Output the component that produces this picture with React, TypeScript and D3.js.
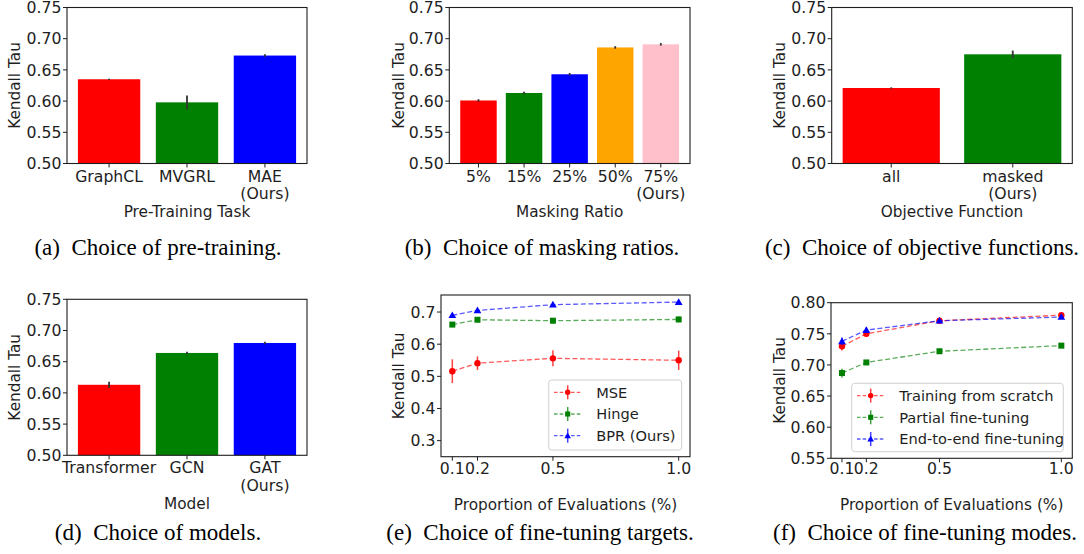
import React from "react";
import * as d3 from "d3";

// ---------- data ----------
const pretrainTasks = ["GraphCL", "MVGRL", "MAE\n(Ours)"];
const pretrainTau = [0.635, 0.598, 0.673];
const pretrainErr = [0.001, 0.011, 0.002];

const maskRatios = ["5%", "15%", "25%", "50%", "75%\n(Ours)"];
const maskTau = [0.601, 0.613, 0.643, 0.686, 0.691];
const maskErr = [0.002, 0.002, 0.002, 0.002, 0.002];

const objectives = ["all", "masked\n(Ours)"];
const objectiveTau = [0.621, 0.675];
const objectiveErr = [0.001, 0.006];

const models = ["Transformer", "GCN", "GAT\n(Ours)"];
const modelTau = [0.613, 0.664, 0.68];
const modelErr = [0.005, 0.002, 0.002];

const evalProps = [0.1, 0.2, 0.5, 1.0];
const evalTickLabels = ["0.1", "0.2", "0.5", "1.0"];

const targetNames = ["MSE", "Hinge", "BPR (Ours)"];
const mseTau = [0.516, 0.541, 0.556, 0.55];
const mseErr = [0.037, 0.021, 0.025, 0.03];
const hingeTau = [0.661, 0.676, 0.673, 0.677];
const hingeErr = [0.006, 0.005, 0.008, 0.009];
const bprTau = [0.69, 0.705, 0.723, 0.731];
const bprErr = [0.004, 0.003, 0.003, 0.003];

const modeNames = ["Training from scratch", "Partial fine-tuning", "End-to-end fine-tuning"];
const scratchTau = [0.73, 0.75, 0.771, 0.78];
const scratchErr = [0.007, 0.005, 0.003, 0.003];
const partialTau = [0.687, 0.704, 0.722, 0.731];
const partialErr = [0.007, 0.004, 0.003, 0.003];
const e2eTau = [0.738, 0.756, 0.771, 0.777];
const e2eErr = [0.006, 0.004, 0.003, 0.003];

const barTicks = [0.5, 0.55, 0.6, 0.65, 0.7, 0.75];
const targetTicks = [0.3, 0.4, 0.5, 0.6, 0.7];
const modeTicks = [0.55, 0.6, 0.65, 0.7, 0.75, 0.8];

// ---------- styles ----------
const SANS = "DejaVu Sans, Verdana, sans-serif";
const SERIF = "Liberation Serif, Times New Roman, serif";
const INK = "#1e1e1e";
const TICK_FS = 15.7;
const LABEL_FS = 15.3;

type Box = { x0: number; x1: number; y0: number; y1: number };

function YAxis({ box, y, ticks, digits, labelX }: any) {
  return (
    <g>
      {ticks.map((t: number) => (
        <g key={t}>
          <line x1={box.x0 - 4} x2={box.x0} y1={y(t)} y2={y(t)} stroke={INK} strokeWidth={1} />
          <text x={box.x0 - 5.5} y={y(t) + 5.7} textAnchor="end" fontSize={TICK_FS} fontFamily={SANS} fill={INK}>
            {t.toFixed(digits)}
          </text>
        </g>
      ))}
      <text
        transform={`translate(${labelX},${(box.y0 + box.y1) / 2}) rotate(-90)`}
        textAnchor="middle"
        fontSize={LABEL_FS}
        fontFamily={SANS}
        fill={INK}
      >
        Kendall Tau
      </text>
    </g>
  );
}

function Caption({ x, y, tag, text }: any) {
  return (
    <text x={x} y={y} textAnchor="middle" fontSize={23} fontFamily={SERIF} fill="#000">
      {tag}
      {"\u2002"}
      {text}
    </text>
  );
}

function BarPanel({ p }: any) {
  const box: Box = p.box;
  const n = p.cats.length;
  const pad = 0.05 * (n - 0.2);
  const x = d3.scaleLinear().domain([-0.4 - pad, n - 0.6 + pad]).range([box.x0, box.x1]);
  const y = d3.scaleLinear().domain([0.5, 0.75]).range([box.y1, box.y0]);
  const bw = x(0.8) - x(0);
  return (
    <g>
      {p.vals.map((v: number, i: number) => (
        <rect key={i} x={x(i) - bw / 2} y={y(v)} width={bw} height={y(0.5) - y(v)} fill={p.colors[i]} />
      ))}
      {p.vals.map((v: number, i: number) => (
        <line key={i} x1={x(i)} x2={x(i)} y1={y(v - p.errs[i])} y2={y(v + p.errs[i])} stroke="#333" strokeWidth={1.8} />
      ))}
      <rect x={box.x0} y={box.y0} width={box.x1 - box.x0} height={box.y1 - box.y0} fill="none" stroke={INK} strokeWidth={1.1} />
      <YAxis box={box} y={y} ticks={barTicks} digits={2} labelX={p.ylabelX} />
      {p.cats.map((c: string, i: number) => (
        <g key={c}>
          <line x1={x(i)} x2={x(i)} y1={box.y1} y2={box.y1 + 4} stroke={INK} />
          {c.split("\n").map((s, k) => (
            <text key={k} x={x(i)} y={p.tickY + k * 17.8} textAnchor="middle" fontSize={TICK_FS} fontFamily={SANS} fill={INK}>
              {s}
            </text>
          ))}
        </g>
      ))}
      <text x={(box.x0 + box.x1) / 2} y={p.xlabelY} textAnchor="middle" fontSize={LABEL_FS} fontFamily={SANS} fill={INK}>
        {p.xlabel}
      </text>
      <Caption x={p.capX} y={p.capY} tag={p.tag} text={p.caption} />
    </g>
  );
}

function Marker({ kind, cx, cy, color, s = 1 }: any) {
  if (kind === "circle") return <circle cx={cx} cy={cy} r={3.2 * s} fill={color} />;
  if (kind === "square") return <rect x={cx - 3 * s} y={cy - 3 * s} width={6 * s} height={6 * s} fill={color} />;
  const path = d3.symbol(d3.symbolTriangle, 26 * s * s)();
  return <path d={path as string} transform={`translate(${cx},${cy + 0.6})`} fill={color} />;
}

function LinePanel({ p }: any) {
  const box: Box = p.box;
  const x = d3.scaleLinear().domain([0.055, 1.045]).range([box.x0, box.x1]);
  const y = d3.scaleLinear().domain(p.ydomain).range([box.y1, box.y0]);
  const line = d3
    .line<number>()
    .x((_, i) => x(evalProps[i]))
    .y((d) => y(d));
  const lg = p.legend;
  return (
    <g>
      {p.series.map((s: any) => (
        <g key={s.name}>
          <path d={line(s.vals) as string} fill="none" stroke={s.color} strokeOpacity={0.65} strokeWidth={1.3} strokeDasharray="5,2.6" />
          {s.vals.map((v: number, i: number) => (
            <line key={i} x1={x(evalProps[i])} x2={x(evalProps[i])} y1={y(v - s.errs[i])} y2={y(v + s.errs[i])} stroke={s.color} strokeOpacity={0.75} strokeWidth={1.5} />
          ))}
          {s.vals.map((v: number, i: number) => (
            <Marker key={i} kind={s.marker} cx={x(evalProps[i])} cy={y(v)} color={s.color} />
          ))}
        </g>
      ))}
      <rect x={box.x0} y={box.y0} width={box.x1 - box.x0} height={box.y1 - box.y0} fill="none" stroke={INK} strokeWidth={1.1} />
      <YAxis box={box} y={y} ticks={p.ticks} digits={p.digits} labelX={p.ylabelX} />
      {evalProps.map((v, i) => (
        <g key={v}>
          <line x1={x(v)} x2={x(v)} y1={box.y1} y2={box.y1 + 4} stroke={INK} />
          <text x={x(v)} y={p.tickY} textAnchor="middle" fontSize={TICK_FS} fontFamily={SANS} fill={INK}>
            {evalTickLabels[i]}
          </text>
        </g>
      ))}
      <text x={(box.x0 + box.x1) / 2} y={p.xlabelY} textAnchor="middle" fontSize={LABEL_FS} fontFamily={SANS} fill={INK}>
        Proportion of Evaluations (%)
      </text>
      <rect x={lg.x} y={lg.y} width={lg.w} height={lg.h} rx={3} fill="#fff" fillOpacity={0.85} stroke="#d0d0d0" strokeWidth={1} />
      {p.series.map((s: any, i: number) => {
        const cy = lg.y + 12.3 + i * 21.7;
        const hx = lg.x + 19;
        return (
          <g key={s.name}>
            <line x1={lg.x + 5.3} x2={lg.x + 33} y1={cy} y2={cy} stroke={s.color} strokeOpacity={0.65} strokeWidth={1.3} strokeDasharray="3.5,2.2" />
            <line x1={hx} x2={hx} y1={cy - 7} y2={cy + 7} stroke={s.color} strokeOpacity={0.75} strokeWidth={1.5} />
            <Marker kind={s.marker} cx={hx} cy={cy} color={s.color} s={0.85} />
            <text x={lg.x + 47.5} y={cy + 5.2} fontSize={14.6} fontFamily={SANS} fill={INK}>
              {s.name}
            </text>
          </g>
        );
      })}
      <Caption x={p.capX} y={p.capY} tag={p.tag} text={p.caption} />
    </g>
  );
}

const barPanels = [
  {
    box: { x0: 67, x1: 307, y0: 7.5, y1: 163.5 },
    cats: pretrainTasks, vals: pretrainTau, errs: pretrainErr,
    colors: ["#ff0000", "#008000", "#0000ff"],
    xlabel: "Pre-Training Task", tag: "(a)", caption: "Choice of pre-training.",
    ylabelX: 20.3, tickY: 181.5, xlabelY: 217.3, capX: 158, capY: 255,
  },
  {
    box: { x0: 449.3, x1: 690, y0: 7.5, y1: 163.5 },
    cats: maskRatios, vals: maskTau, errs: maskErr,
    colors: ["#ff0000", "#008000", "#0000ff", "#ffa500", "#ffc0cb"],
    xlabel: "Masking Ratio", tag: "(b)", caption: "Choice of masking ratios.",
    ylabelX: 403.6, tickY: 181.5, xlabelY: 217.3, capX: 542, capY: 255,
  },
  {
    box: { x0: 831.7, x1: 1072.3, y0: 7.5, y1: 163.5 },
    cats: objectives, vals: objectiveTau, errs: objectiveErr,
    colors: ["#ff0000", "#008000"],
    xlabel: "Objective Function", tag: "(c)", caption: "Choice of objective functions.",
    ylabelX: 785.3, tickY: 181.5, xlabelY: 217.3, capX: 922, capY: 255,
  },
  {
    box: { x0: 67, x1: 307, y0: 299.3, y1: 455.3 },
    cats: models, vals: modelTau, errs: modelErr,
    colors: ["#ff0000", "#008000", "#0000ff"],
    xlabel: "Model", tag: "(d)", caption: "Choice of models.",
    ylabelX: 20.3, tickY: 473.3, xlabelY: 509.3, capX: 158, capY: 540,
  },
];

const linePanels = [
  {
    box: { x0: 441, x1: 690, y0: 295, y1: 456.7 },
    ydomain: [0.25, 0.753], ticks: targetTicks, digits: 1,
    series: [
      { name: targetNames[0], vals: mseTau, errs: mseErr, color: "#ff0000", marker: "circle" },
      { name: targetNames[1], vals: hingeTau, errs: hingeErr, color: "#008000", marker: "square" },
      { name: targetNames[2], vals: bprTau, errs: bprErr, color: "#0000ff", marker: "triangle" },
    ],
    legend: { x: 548.7, y: 380, w: 133, h: 70 },
    tag: "(e)", caption: "Choice of fine-tuning targets.",
    ylabelX: 403.6, tickY: 474, xlabelY: 510, capX: 540, capY: 540,
  },
  {
    box: { x0: 831, x1: 1072.3, y0: 302.7, y1: 458.3 },
    ydomain: [0.55, 0.8], ticks: modeTicks, digits: 2,
    series: [
      { name: modeNames[0], vals: scratchTau, errs: scratchErr, color: "#ff0000", marker: "circle" },
      { name: modeNames[1], vals: partialTau, errs: partialErr, color: "#008000", marker: "square" },
      { name: modeNames[2], vals: e2eTau, errs: e2eErr, color: "#0000ff", marker: "triangle" },
    ],
    legend: { x: 851.7, y: 383.3, w: 211.6, h: 68.4 },
    tag: "(f)", caption: "Choice of fine-tuning modes.",
    ylabelX: 785.3, tickY: 474, xlabelY: 510, capX: 925, capY: 540,
  },
];

export default function App() {
  return (
    <svg width={1084} height={554} style={{ position: "absolute", left: 0, top: 0, background: "#fff" }}>
      <rect width={1084} height={554} fill="#fff" />
      {barPanels.map((p) => (
        <BarPanel key={p.tag} p={p} />
      ))}
      {linePanels.map((p) => (
        <LinePanel key={p.tag} p={p} />
      ))}
    </svg>
  );
}
